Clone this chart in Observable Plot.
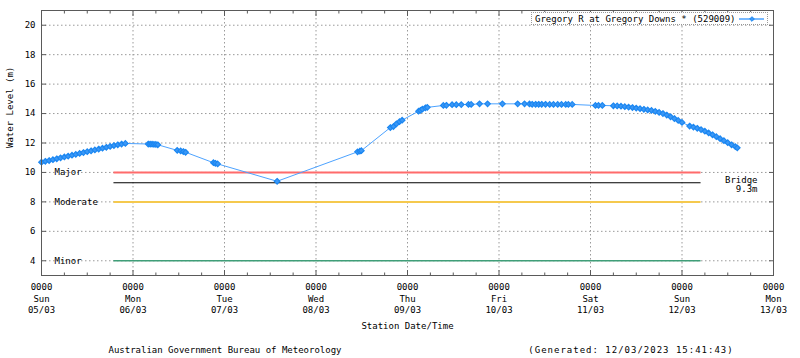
<!DOCTYPE html>
<html>
<head>
<meta charset="utf-8">
<script src="https://cdn.jsdelivr.net/npm/d3@7"></script>
<script src="https://cdn.jsdelivr.net/npm/@observablehq/plot@0.6"></script>
<style>
  body { margin: 0; background: #fff; }
  #wrap { position: relative; width: 800px; height: 358px; font-family: "DejaVu Sans Mono", monospace; font-size: 9px; color: #000; }
  #legend { position: absolute; left: 531px; top: 12px; width: 237px; height: 13px; background: #fff; border: 1px dotted #999; box-sizing: border-box; display: flex; align-items: center; padding-left: 3px; white-space: nowrap; }
  #legend svg { margin-left: 3px; }
  #footer { position: absolute; left: 0; top: 345px; width: 800px; height: 12px; }
  #footer span { position: absolute; top: 0; transform: translateX(-50%); white-space: nowrap; }
</style>
</head>
<body>
<div id="wrap">
  <div id="chart"></div>
  <div id="legend"></div>
  <div id="footer"></div>
</div>
<script>
// ---- data ----
const seriesName = "Gregory R at Gregory Downs * (529009)";
const startDay = Date.UTC(2023, 2, 5); // Sun 05/03/2023 00:00
const hours = [
  0,1,2,3,4,5,6,7,8,9,10,11,12,13,14,15,16,17,18,19,20,21,22,
  28,28.5,29,29.5,30,30.5,
  35.6,36.5,37.2,37.8,
  45.1,45.6,46.2,
  61.8,
  82.9,83.5,83.9,
  91.5,92.3,93.1,93.9,94.6,
  98.9,99.4,99.9,100.7,101.2,
  105.4,106.2,107.7,108.8,110.1,112.0,112.7,114.9,117.0,120.9,124.9,126.7,128.0,
  128.7,129.6,130.4,131.2,132.2,133.3,134.3,135.4,136.4,137.5,138.2,139.2,
  145.3,146.1,147.1,
  150,151,152,153,154,155,156,157,158,159,160,161,162,163,164,165,166,167,168,
  170,171,172,173,174,175,176,177,178,179,180,181,182,182.5
];
const levels = [
  10.70,10.76,10.81,10.87,10.93,10.99,11.05,11.11,11.17,11.23,11.29,11.35,11.41,11.47,11.53,11.59,11.65,11.71,11.77,11.83,11.88,11.93,11.97,
  11.93,11.92,11.92,11.91,11.90,11.88,
  11.50,11.46,11.42,11.37,
  10.66,10.62,10.58,
  9.40,
  11.40,11.44,11.48,
  13.05,13.12,13.30,13.45,13.55,
  14.16,14.22,14.30,14.39,14.42,
  14.55,14.56,14.60,14.60,14.61,14.62,14.62,14.66,14.66,14.66,14.66,14.66,14.65,
  14.63,14.63,14.63,14.63,14.63,14.62,14.62,14.62,14.62,14.62,14.62,14.62,
  14.55,14.55,14.55,
  14.53,14.52,14.50,14.47,14.44,14.41,14.37,14.33,14.29,14.25,14.21,14.15,14.08,14.00,13.90,13.78,13.66,13.53,13.40,
  13.15,13.08,13.00,12.91,12.80,12.68,12.56,12.43,12.29,12.16,12.02,11.88,11.75,11.67
];
const thresholdNames = ["Major", "Moderate", "Minor"];
const thresholdLevels = [10, 8, 4];
const thresholdColors = ["#ff6b6b", "#f5c94e", "#3f9e78"];
const bridgeLevel = 9.3;
const bridgeLabel = ["Bridge", "9.3m"];
const thresholdStartHour = 19;
const thresholdEndHour = 173;
const yTicks = [4, 6, 8, 10, 12, 14, 16, 18, 20];
const yDomain = [3, 21];
const dayCount = 8;
const xLabel = "Station Date/Time";
const yLabel = "Water Level (m)";
const footerLeft = "Australian Government Bureau of Meteorology";
const footerRight = "(Generated: 12/03/2023 15:41:43)";

// ---- build ----
const H = 3600e3;
const toDate = h => new Date(startDay + h * H);
const data = hours.map((h, i) => ({t: toDate(h), v: levels[i]}));
const days = d3.range(dayCount + 1).map(d => toDate(d * 24));
const sixHours = d3.range(dayCount * 4 + 1).map(k => toDate(k * 6)).filter((d, k) => k % 4 !== 0);
const thresholds = thresholdNames.map((n, i) => ({name: n, v: thresholdLevels[i], c: thresholdColors[i], t1: toDate(thresholdStartHour), t2: toDate(thresholdEndHour)}));
const fmtDay = d3.utcFormat("%a"), fmtDate = d3.utcFormat("%d/%m"), fmtHM = d3.utcFormat("%H%M");

const frameColor = "#5a5a5a";
const gridStyle = {stroke: "#9a9a9a", strokeOpacity: 1, strokeDasharray: "1.5,2.5"};
const tickOnly = {text: null, label: null, stroke: frameColor};

const plot = Plot.plot({
  width: 800,
  height: 343,
  marginTop: 10,
  marginBottom: 68,
  marginLeft: 41,
  marginRight: 27,
  style: {fontFamily: "DejaVu Sans Mono, monospace", fontSize: "9px", background: "#fff", color: "#000"},
  x: {type: "utc", domain: [days[0], days[days.length - 1]]},
  y: {domain: yDomain},
  marks: [
    Plot.gridY(yTicks, gridStyle),
    Plot.gridX(days.slice(1, -1), gridStyle),
    // threshold lines
    Plot.ruleY(thresholds, {y: "v", x1: "t1", x2: "t2", stroke: "c", strokeWidth: d => d.name === "Minor" ? 1.5 : 2}),
    Plot.ruleY([bridgeLevel], {x1: toDate(thresholdStartHour), x2: toDate(thresholdEndHour), stroke: "#000", strokeWidth: 1}),
    Plot.text(thresholds, {y: "v", frameAnchor: "left", dx: 13, text: "name", textAnchor: "start", fill: "#000"}),
    Plot.text([bridgeLabel[0]], {y: bridgeLevel, frameAnchor: "right", dx: -16, dy: -3, text: d => d, textAnchor: "end", fill: "#000"}),
    Plot.text([bridgeLabel[1]], {y: bridgeLevel, frameAnchor: "right", dx: -16, dy: 6, text: d => d, textAnchor: "end", fill: "#000"}),
    // series
    Plot.line(data, {x: "t", y: "v", stroke: "#4da3ff", strokeWidth: 1}),
    Plot.dot(data, {x: "t", y: "v", symbol: "diamond2", r: 2.5, stroke: "#1b87f2", strokeWidth: 1.2, fill: "#3d98f5"}),
    // frame
    Plot.frame({stroke: frameColor, strokeWidth: 1}),
    // inward ticks
    Plot.axisX(days, {anchor: "bottom", tickSize: -5, ...tickOnly}),
    Plot.axisX(sixHours, {anchor: "bottom", tickSize: -2.5, ...tickOnly}),
    Plot.axisX(days, {anchor: "top", tickSize: -5, ...tickOnly}),
    Plot.axisX(sixHours, {anchor: "top", tickSize: -2.5, ...tickOnly}),
    Plot.axisY(yTicks, {anchor: "left", tickSize: -5, ...tickOnly}),
    Plot.axisY(yTicks, {anchor: "right", tickSize: -5, ...tickOnly}),
    // tick labels
    Plot.axisX(days, {anchor: "bottom", tickSize: 0, tickPadding: 6, lineHeight: 1.3, label: null,
      tickFormat: d => `${fmtHM(d)}\n${fmtDay(d)}\n${fmtDate(d)}`}),
    Plot.axisY(yTicks, {anchor: "left", tickSize: 0, tickPadding: 6, label: null}),
    // axis titles
    Plot.text([xLabel], {frameAnchor: "bottom", dy: 53, text: d => d, fill: "#000"}),
    Plot.text([yLabel], {frameAnchor: "left", dx: -31, dy: 5, rotate: -90, text: d => d, fill: "#000"})
  ]
});
document.getElementById("chart").appendChild(plot);

// legend
const lg = document.getElementById("legend");
lg.appendChild(document.createTextNode(seriesName));
const ns = "http://www.w3.org/2000/svg";
const ls = document.createElementNS(ns, "svg");
ls.setAttribute("width", "27"); ls.setAttribute("height", "10");
const ln = document.createElementNS(ns, "line");
ln.setAttribute("x1", "1"); ln.setAttribute("x2", "26"); ln.setAttribute("y1", "5"); ln.setAttribute("y2", "5");
ln.setAttribute("stroke", "#4da3ff"); ln.setAttribute("stroke-width", "1.5");
ls.appendChild(ln);
const mk = document.createElementNS(ns, "path");
mk.setAttribute("d", d3.symbol(d3.symbolDiamond2, 14)());
mk.setAttribute("transform", "translate(14,5)");
mk.setAttribute("stroke", "#1b87f2"); mk.setAttribute("fill", "#3d98f5");
ls.appendChild(mk);
lg.appendChild(ls);

// footer
const ft = document.getElementById("footer");
[[footerLeft, 225, 0], [footerRight, 631, 1]].forEach(([t, x, ls]) => {
  const s = document.createElement("span");
  s.textContent = t; s.style.left = x + "px"; s.style.letterSpacing = ls + "px";
  ft.appendChild(s);
});
</script>
</body>
</html>
